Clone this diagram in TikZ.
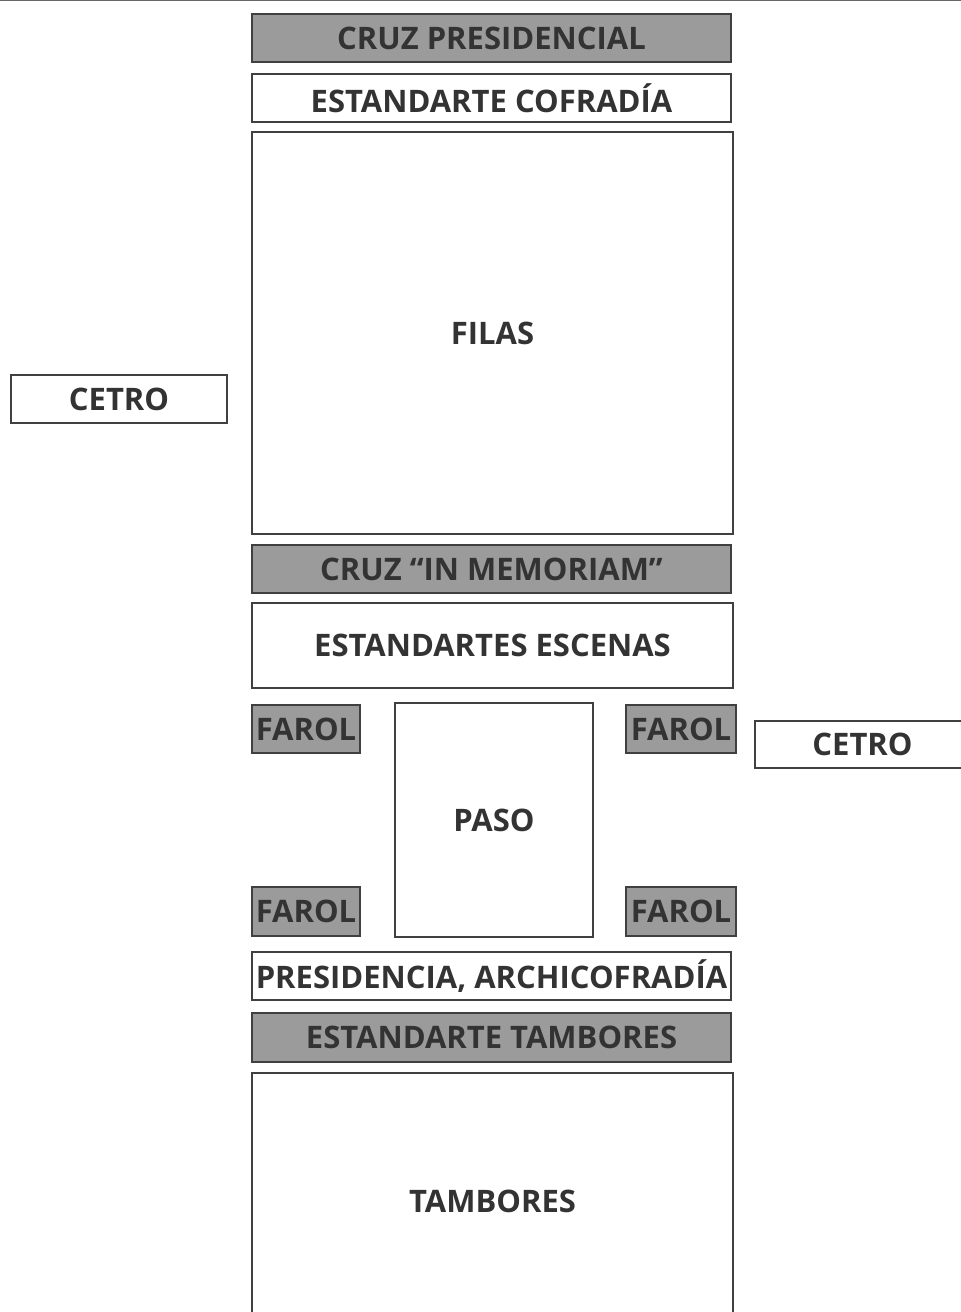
\documentclass[tikz,border=0pt]{standalone}
\usepackage{fontspec}
\setmainfont{Open Sans}
\usepackage{tikz}
\usetikzlibrary{positioning}

\definecolor{boxline}{HTML}{404040}
\definecolor{boxgray}{HTML}{9B9B9B}
\definecolor{labtext}{HTML}{333333}

\tikzset{
  cortejo/.style={draw=boxline,line width=2.6pt,inner sep=0pt,
    font=\fontsize{31}{33}\selectfont\bfseries,text=labtext},
  cortejogris/.style={cortejo,fill=boxgray},
}

\begin{document}
\begin{tikzpicture}[x=1pt,y=-1pt]
  \useasboundingbox (0,0) rectangle (961,1312);

  % Top rule
  \coordinate (T1) at (0,0);
  \coordinate (T2) at (961,0);
  \draw[boxline!80,line width=2pt] (T1) -- (T2);

  % Head of the procession
  \node[cortejogris,minimum width=479,minimum height=48] (cruz) at (491.5,38) {CRUZ PRESIDENCIAL};
  \node[cortejo,minimum width=479,minimum height=48] (cofradia) at (491.5,98) {ESTANDARTE COFRADÍA};
  \node[cortejo,minimum width=481,minimum height=402] (filas) at (492.5,333) {FILAS};
  \node[cortejo,minimum width=216,minimum height=48] (cetroL) at (119,399) {CETRO};

  % Memoriam and scenes
  \node[cortejogris,minimum width=479,minimum height=48] (memoriam) at (491.5,569) {CRUZ ``IN MEMORIAM''};
  \node[cortejo,minimum width=481,minimum height=85] (escenas) at (492.5,645.5) {ESTANDARTES ESCENAS};

  % Paso with farols
  \node[cortejo,minimum width=198,minimum height=234] (paso) at (494,820) {PASO};
  \node[cortejogris,minimum width=108,minimum height=48] (farolTL) at (306,729) {FAROL};
  \node[cortejogris,minimum width=110,minimum height=48] (farolTR) at (681,729) {FAROL};
  \node[cortejogris,minimum width=108,minimum height=49] (farolBL) at (306,911.5) {FAROL};
  \node[cortejogris,minimum width=110,minimum height=49] (farolBR) at (681,911.5) {FAROL};
  \node[cortejo,minimum width=215,minimum height=47] (cetroR) at (862.5,744.5) {CETRO};

  % Tail of the procession
  \node[cortejo,minimum width=479,minimum height=48] (presidencia) at (491.5,976) {PRESIDENCIA, ARCHICOFRADÍA};
  \node[cortejogris,minimum width=479,minimum height=49] (estTambores) at (491.5,1037.5) {ESTANDARTE TAMBORES};
  \node[cortejo,minimum width=481,minimum height=260] (tambores) at (492.5,1203) {\raisebox{4pt}{TAMBORES}};
\end{tikzpicture}
\end{document}
